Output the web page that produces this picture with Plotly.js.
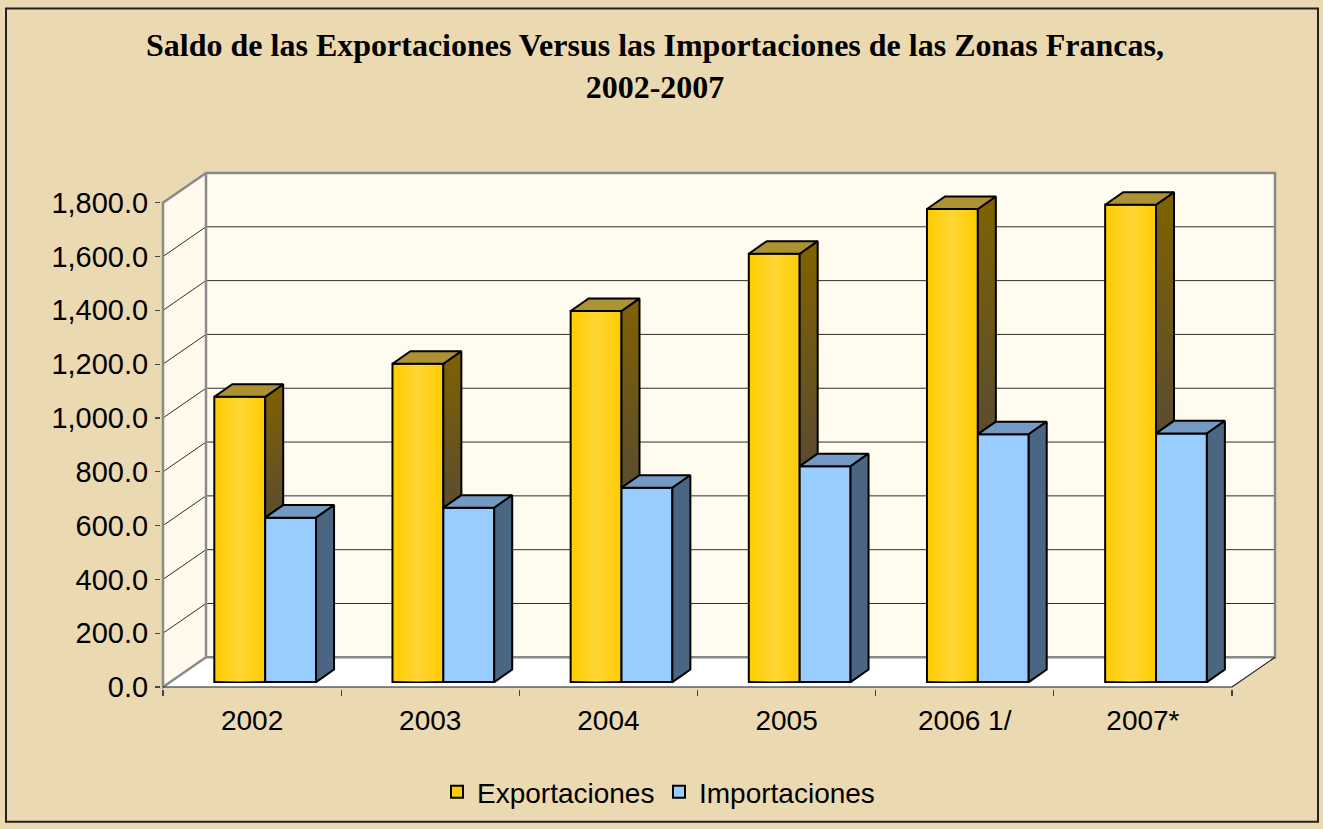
<!DOCTYPE html>
<html><head><meta charset="utf-8">
<script src="https://cdn.plot.ly/plotly-3.0.1.min.js"></script>
<style>html,body{margin:0;padding:0;background:#ecdbb4}</style>
</head><body><div id="chart" style="width:1323px;height:829px"></div>
<script>
// ---- data ----
const categories = ['2002', '2003', '2004', '2005', '2006 1/', '2007*'];
const exportaciones = [1060, 1183, 1379, 1592, 1758, 1774];
const importaciones = [611, 648, 722, 802, 921, 924];
const yTickVals = [0, 200, 400, 600, 800, 1000, 1200, 1400, 1600, 1800];
const yMax = 1800;

// ---- geometry (layout in pixels) ----
const W = 1323, H = 829;
const FRONT_L = 163, FRONT_R = 1232, BACK_R = 1275, FLOOR_Y = 692, TOP_FRONT_Y = 203;
const DEPTH_PX_Y = 30, PAD = 2;
const pxCat = (FRONT_R - FRONT_L) / categories.length;
const pxUnit = (FLOOR_Y - TOP_FRONT_Y) / yMax;
const DX = (BACK_R - FRONT_R) / pxCat;
const DY = DEPTH_PX_Y / pxUnit;
const marginL = FRONT_L - PAD, marginR = W - BACK_R - PAD;
const marginT = TOP_FRONT_Y - DEPTH_PX_Y - PAD, marginB = H - FLOOR_Y - PAD;
const plotW = W - marginL - marginR, plotH = H - marginT - marginB;
const xRange = [-0.5 - PAD / pxCat, -0.5 + (BACK_R - FRONT_L + PAD) / pxCat];
const yRange = [-PAD / pxUnit, (FLOOR_Y - TOP_FRONT_Y + DEPTH_PX_Y + PAD) / pxUnit];
const px2paperX = p => (p - marginL) / plotW;
const px2paperY = p => (H - marginB - p) / plotH;

// bar geometry (in axis units)
const barBase = 5 / pxUnit;
const barW = 0.2855, offE = -0.212, offI = offE + barW;
const bdx = 18 / pxCat, bdy = 12.7 / pxUnit;

const nCat = categories.length;
const xl = -0.5, xr = nCat - 0.5;

// ---- frame shapes (below traces) ----
const shapes = [];
const path = pts => 'M' + pts.map(p => p[0] + ',' + p[1]).join('L') + 'Z';
const openPath = pts => 'M' + pts.map(p => p[0] + ',' + p[1]).join('L');
const GREY = '#8a8a8a';
// back wall
shapes.push({type: 'path', xref: 'x', yref: 'y', layer: 'below',
  path: path([[xl + DX, DY], [xr + DX, DY], [xr + DX, yMax + DY], [xl + DX, yMax + DY]]),
  fillcolor: '#fffbee', line: {width: 0}});
// side wall
shapes.push({type: 'path', xref: 'x', yref: 'y', layer: 'below',
  path: path([[xl, 0], [xl + DX, DY], [xl + DX, yMax + DY], [xl, yMax]]),
  fillcolor: '#fffaeb', line: {width: 0}});
// floor
shapes.push({type: 'path', xref: 'x', yref: 'y', layer: 'below',
  path: path([[xl, 0], [xr, 0], [xr + DX, DY], [xl + DX, DY]]),
  fillcolor: '#ffffff', line: {width: 0}});
// gridlines
yTickVals.filter(v => v > 0 && v < yMax).forEach(v => {
  shapes.push({type: 'path', xref: 'x', yref: 'y', layer: 'below',
    path: openPath([[xl, v], [xl + DX, v + DY], [xr + DX, v + DY]]),
    line: {color: '#2e2e2e', width: 1}});
});
// grey edges
shapes.push({type: 'path', xref: 'x', yref: 'y', layer: 'below',
  path: path([[xl + DX, DY], [xr + DX, DY], [xr + DX, yMax + DY], [xl + DX, yMax + DY]]),
  line: {color: GREY, width: 2.5}});
shapes.push({type: 'path', xref: 'x', yref: 'y', layer: 'below',
  path: openPath([[xl + DX, DY], [xl, 0], [xl, yMax], [xl + DX, yMax + DY]]),
  line: {color: GREY, width: 2.5}});
// floor front and right edges
shapes.push({type: 'path', xref: 'x', yref: 'y', layer: 'below',
  path: openPath([[xl, 0], [xr, 0], [xr + DX, DY]]),
  line: {color: '#1a1a1a', width: 1.2}});
// outer border
shapes.push({type: 'rect', xref: 'paper', yref: 'paper', layer: 'above',
  x0: px2paperX(6), x1: px2paperX(1318), y0: px2paperY(828), y1: px2paperY(7),
  line: {color: '#222', width: 2}, fillcolor: 'rgba(0,0,0,0)'});

// ---- traces ----
const traces = [];
traces.push({type: 'bar', name: 'Exportaciones', x: categories.map((c, i) => i), y: exportaciones,
  base: barBase, width: barW, offset: offE,
  marker: {color: '#ffcc00', line: {color: '#000', width: 2}}, hoverinfo: 'skip'});
traces.push({type: 'bar', name: 'Importaciones', x: categories.map((c, i) => i), y: importaciones,
  base: barBase, width: barW, offset: offI,
  marker: {color: '#99ccff', line: {color: '#000', width: 2}}, hoverinfo: 'skip'});

function poly(xs, ys, fill, extra) {
  return Object.assign({type: 'scatter', mode: 'lines', x: xs.concat([xs[0]]), y: ys.concat([ys[0]]),
    fill: 'toself', fillcolor: fill, line: {color: '#000', width: 2}, showlegend: false,
    hoverinfo: 'skip'}, extra || {});
}

categories.forEach((c, i) => {
  const E = barBase + exportaciones[i], I = barBase + importaciones[i];
  const e0 = i + offE, e1 = e0 + barW, i0 = i + offI, i1 = i0 + barW;
  // export front highlight
  traces.push(poly([e0, e1, e1, e0], [barBase, barBase, E, E], 'rgba(0,0,0,0)', {
    line: {width: 0},
    fillgradient: {type: 'horizontal', start: e0, stop: e1,
      colorscale: [[0, 'rgba(255,221,90,0)'], [0.5, 'rgba(255,222,95,0.55)'], [1, 'rgba(255,221,90,0)']]}}));
  // export side (visible part above import)
  traces.push(poly([e1, e1 + bdx, e1 + bdx, e1], [I, I + bdy, E + bdy, E], '#735a10', {
    fillgradient: {type: 'vertical', start: I, stop: E + bdy,
      colorscale: [[0, '#5a4c30'], [1, '#806200']]}}));
  // export top
  traces.push(poly([e0, e1, e1 + bdx, e0 + bdx], [E, E, E + bdy, E + bdy], '#ad9233'));
  // import top
  traces.push(poly([i0, i1, i1 + bdx, i0 + bdx], [I, I, I + bdy, I + bdy], '#739ac3'));
  // import side
  traces.push(poly([i1, i1 + bdx, i1 + bdx, i1], [barBase, barBase + bdy, I + bdy, I], '#4b6682'));
});

const fam = 'Liberation Sans, Arial, sans-serif';
const layout = {
  width: W, height: H,
  margin: {l: marginL, r: marginR, t: marginT, b: marginB, pad: 0},
  paper_bgcolor: '#ebd9b1', plot_bgcolor: 'rgba(0,0,0,0)',
  barmode: 'overlay',
  showlegend: true,
  title: {text: '<b>Saldo de las Exportaciones Versus las Importaciones de las Zonas Francas,</b><br><b>2002-2007</b>',
    font: {family: 'Liberation Serif, Times New Roman, serif', size: 32, color: '#000'},
    x: 655 / W, xanchor: 'center', xref: 'container', y: 1 - 56 / H, yanchor: 'middle', yref: 'container'},
  xaxis: {range: xRange, tickvals: categories.map((c, i) => i), ticktext: categories,
    ticks: '', showgrid: false, zeroline: false, showline: false, fixedrange: true,
    tickfont: {family: fam, size: 28, color: '#000'}, ticklabelstandoff: 12,
    minor: {tickvals: categories.map((c, i) => i - 0.5).concat([nCat - 0.5]), ticks: 'outside',
      ticklen: 6, tickwidth: 1.2, tickcolor: '#444', showgrid: false}},
  yaxis: {range: yRange, tickvals: yTickVals, tickformat: ',.1f', ticks: 'outside', ticklen: 5,
    tickwidth: 1.2, tickcolor: '#444', showgrid: false, zeroline: false, showline: false,
    fixedrange: true, tickfont: {family: fam, size: 29, color: '#000'}, ticklabelstandoff: 1},
  legend: {orientation: 'h', x: px2paperX(659), xanchor: 'center', y: px2paperY(798), yanchor: 'middle',
    font: {family: fam, size: 28, color: '#000'}, entrywidth: 177, entrywidthmode: 'pixels',
    bgcolor: 'rgba(0,0,0,0)', itemclick: false, itemdoubleclick: false},
  shapes: shapes
};
Plotly.newPlot('chart', traces, layout, {displayModeBar: false, staticPlot: true});
</script></body></html>
